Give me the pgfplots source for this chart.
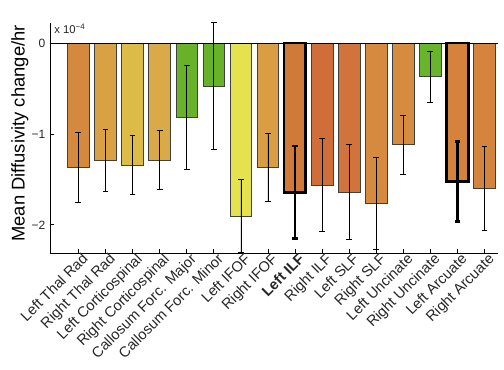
\documentclass[border=0pt]{standalone}
\usepackage{pgfplots}
\pgfplotsset{compat=1.18}
\usepackage{fontspec}
\setmainfont{Liberation Sans}
\definecolor{c1}{RGB}{213,137,62}
\definecolor{c2}{RGB}{218,160,68}
\definecolor{c3}{RGB}{220,188,70}
\definecolor{c4}{RGB}{218,170,72}
\definecolor{c5}{RGB}{104,178,42}
\definecolor{c6}{RGB}{104,178,42}
\definecolor{c7}{RGB}{228,226,78}
\definecolor{c8}{RGB}{217,158,68}
\definecolor{c9}{RGB}{208,122,58}
\definecolor{c10}{RGB}{208,110,58}
\definecolor{c11}{RGB}{210,115,60}
\definecolor{c12}{RGB}{214,138,64}
\definecolor{c13}{RGB}{214,140,64}
\definecolor{c14}{RGB}{104,180,42}
\definecolor{c15}{RGB}{212,130,60}
\definecolor{c16}{RGB}{212,132,60}
\pgfplotsset{
  thinbar/.style={ybar, bar width=0.8, bar shift=0pt, fill=#1, draw=black!75, line width=0.5pt,
    error bars/.cd, y dir=both, y explicit,
    error bar style={black, line width=0.5pt},
    error mark options={rotate=90, mark size=2.2pt, black, line width=0.5pt}},
  thickbar/.style={ybar, bar width=0.8, bar shift=0pt, fill=#1, draw=black, line width=2pt,
    error bars/.cd, y dir=both, y explicit,
    error bar style={black, line width=2pt},
    error mark options={rotate=90, mark size=2pt, black, line width=2pt}},
}
\begin{document}
\begin{tikzpicture}
\useasboundingbox (-37.5pt,-87pt) rectangle (340.5pt,189.75pt);
\begin{axis}[
  at={(0,0)}, anchor=south west,
  scale only axis, width=336pt, height=172.5pt,
  xmin=-1.05, xmax=15.5, ymin=-2.31, ymax=0.22,
  axis x line*=bottom, axis y line*=left,
  axis line style={black, line width=0.6pt},
  xtick={0,...,15},
  xticklabels={Left Thal Rad, Right Thal Rad, Left Corticospinal, Right Corticospinal, Callosum Forc. Major, Callosum Forc. Minor, Left IFOF, Right IFOF, \textbf{Left ILF}, Right ILF, Left SLF, Right SLF, Left Uncinate, Right Uncinate, Left Arcuate, Right Arcuate},
  x tick label style={rotate=45, anchor=north east, font=\fontsize{11}{12}\selectfont, text=black!85, inner sep=1pt, xshift=3pt},
  ytick={-2,-1,0}, yticklabels={−2,−1,0},
  y tick label style={font=\fontsize{9}{10}\selectfont, text=black!85},
  tick align=inside, major tick length=3pt,
  tick style={black, line width=0.5pt},
  ylabel={Mean Diffusivity change/hr},
  ylabel style={at={(axis description cs:-0.067,0.52)}, anchor=center, font=\fontsize{13.8}{15}\selectfont},
  clip=false,
]
\addplot[thinbar=c1] coordinates {(0,-1.370) +- (0,0.388)};
\addplot[thinbar=c2] coordinates {(1,-1.293) +- (0,0.344)};
\addplot[thinbar=c3] coordinates {(2,-1.341) +- (0,0.320)};
\addplot[thinbar=c4] coordinates {(3,-1.286) +- (0,0.321)};
\addplot[thinbar=c5] coordinates {(4,-0.817) +- (0,0.575)};
\addplot[thinbar=c6] coordinates {(5,-0.473) +- (0,0.698)};
\addplot[thinbar=c7] coordinates {(6,-1.905) +- (0,0.400)};
\addplot[thinbar=c8] coordinates {(7,-1.370) +- (0,0.372)};
\addplot[thickbar=c9] coordinates {(8,-1.642) +- (0,0.509)};
\addplot[thinbar=c10] coordinates {(9,-1.561) +- (0,0.513)};
\addplot[thinbar=c11] coordinates {(10,-1.638) +- (0,0.518)};
\addplot[thinbar=c12] coordinates {(11,-1.766) +- (0,0.503)};
\addplot[thinbar=c13] coordinates {(12,-1.118) +- (0,0.325)};
\addplot[thinbar=c14] coordinates {(13,-0.370) +- (0,0.282)};
\addplot[thickbar=c15] coordinates {(14,-1.524) +- (0,0.441)};
\addplot[thinbar=c16] coordinates {(15,-1.601) +- (0,0.463)};
\draw[black, line width=0.6pt] (axis cs:-1.05,0) -- (axis cs:15.5,0);
\node[anchor=south west, inner sep=0pt, font=\fontsize{8.5}{9}\selectfont, text=black!85] at ([xshift=3pt,yshift=-8pt]axis description cs:0,1) {x 10\textsuperscript{−4}};
\end{axis}
\end{tikzpicture}
\end{document}
